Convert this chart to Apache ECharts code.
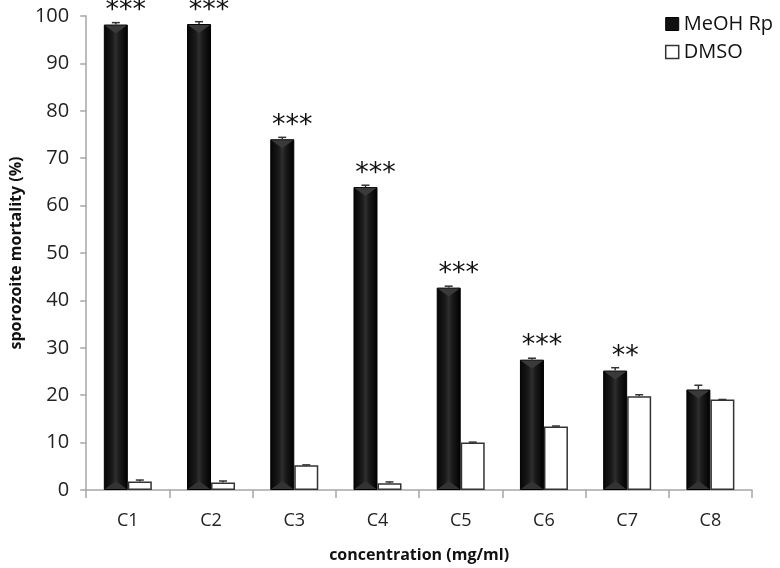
<!DOCTYPE html>
<html><head><meta charset="utf-8">
<script src="https://cdn.jsdelivr.net/npm/echarts@6/dist/echarts.min.js"></script>
<style>html,body{margin:0;padding:0;background:#fff}#c{width:780px;height:568px}</style>
</head><body><div id="c"></div>
<script>
const categories = ['C1','C2','C3','C4','C5','C6','C7','C8'];
const meohValues = [98.2, 98.3, 74.0, 63.9, 42.7, 27.5, 25.2, 21.2];
const meohErrors = [0.4, 0.5, 0.4, 0.4, 0.3, 0.3, 0.6, 0.9];
const dmsoValues = [1.8, 1.6, 5.2, 1.4, 10.0, 13.4, 19.8, 19.1];
const dmsoErrors = [0.3, 0.3, 0.1, 0.3, 0.1, 0.1, 0.3, 0.0];
const significance = ['***','***','***','***','***','***','**',''];
const yTicks = [0,10,20,30,40,50,60,70,80,90,100];

const font = '"Open Sans", "Noto Sans", sans-serif';
const chart = echarts.init(document.getElementById('c'));
const blackFill = new echarts.graphic.LinearGradient(0,0,1,0,[
  {offset:0,color:'#050505'},{offset:0.35,color:'#1a1a1a'},{offset:0.5,color:'#2e2e2e'},{offset:0.65,color:'#1a1a1a'},{offset:1,color:'#000'}]);
const BW = 24;

function errItem(offset){
  return function(params, api){
    const x = api.value(0), v = api.value(1), e = api.value(2);
    const base = api.coord([x, v]);
    const top = api.coord([x, v + e]);
    const cx = base[0] + offset;
    return {type:'group', children:[
      {type:'line', shape:{x1:cx,y1:base[1],x2:cx,y2:top[1]}, style:{stroke:'#333',lineWidth:1.5}},
      {type:'line', shape:{x1:cx-4,y1:top[1],x2:cx+4,y2:top[1]}, style:{stroke:'#333',lineWidth:1.5}}
    ]};
  };
}
// bevel triangles on the black bars
function bevelItem(params, api){
  const x = api.value(0), v = api.value(1);
  const b = api.coord([x, 0]), t = api.coord([x, v]);
  const cx = b[0] - BW/2, l = cx - BW/2 + 1, r = cx + BW/2 - 1;
  const h = 9;
  return {type:'group', children:[
    {type:'polygon', shape:{points:[[l,t[1]+1],[r,t[1]+1],[cx,t[1]+h]]}, style:{fill:'#3a3a3a'}},
    {type:'polygon', shape:{points:[[l,b[1]-1],[r,b[1]-1],[cx,b[1]-h]]}, style:{fill:'#333'}}
  ]};
}

chart.setOption({
  animation:false,
  backgroundColor:'#fff',
  grid:{left:85,right:28,top:16,bottom:78},
  legend:{
    orient:'vertical', right:2, top:9, itemWidth:13, itemHeight:13, itemGap:8,
    textStyle:{fontFamily:font,fontSize:20,color:'#111'},
    data:[
      {name:'MeOH Rp', icon:'rect', itemStyle:{color:'#111',borderColor:'#000',borderWidth:1}},
      {name:'DMSO', icon:'rect', itemStyle:{color:'#fff',borderColor:'#333',borderWidth:1.5}}
    ]
  },
  xAxis:{
    type:'category', data:categories,
    axisLine:{lineStyle:{color:'#a6a6a6',width:1.5}},
    axisTick:{show:true,length:8,alignWithLabel:false,lineStyle:{color:'#a6a6a6',width:1.5}},
    axisLabel:{fontFamily:font,fontSize:18,color:'#222',margin:22},
    name:'concentration (mg/ml)', nameLocation:'middle', nameGap:57,
    nameTextStyle:{fontFamily:font,fontSize:16,fontWeight:'bold',color:'#111'}
  },
  yAxis:{
    type:'value', min:0, max:100, interval:10,
    axisLine:{show:true,lineStyle:{color:'#a6a6a6',width:1.5}},
    axisTick:{show:true,length:6,lineStyle:{color:'#a6a6a6',width:1.5}},
    splitLine:{show:false},
    axisLabel:{fontFamily:font,fontSize:20,color:'#222',margin:17,
      formatter:function(v){return yTicks.indexOf(v)>=0?String(v):'';}},
    name:'sporozoite mortality (%)', nameLocation:'middle', nameGap:58,
    nameTextStyle:{fontFamily:font,fontSize:16,fontWeight:'bold',color:'#111'}
  },
  series:[
    {name:'MeOH Rp', type:'bar', barWidth:BW, barGap:'0%',
     data:meohValues.map((v,i)=>({value:v, label:{formatter:significance[i]}})),
     itemStyle:{color:blackFill,borderColor:'#000',borderWidth:1},
     label:{show:true,position:'top',distance:0,offset:[10,0],fontFamily:'"DejaVu Sans", sans-serif',fontSize:27,color:'#111',lineHeight:27}
    },
    {name:'DMSO', type:'bar', barWidth:BW, barGap:'0%', data:dmsoValues,
     itemStyle:{color:'#fff',borderColor:'#333',borderWidth:1.5}},
    {name:'bevel', type:'custom', renderItem:bevelItem, z:4,
     data:meohValues.map((v,i)=>[i,v]), encode:{x:0,y:1}, silent:true},
    {name:'errM', type:'custom', renderItem:errItem(-BW/2), z:5,
     data:meohValues.map((v,i)=>[i,v,meohErrors[i]]), encode:{x:0,y:1}, silent:true},
    {name:'errD', type:'custom', renderItem:errItem(BW/2), z:5,
     data:dmsoValues.map((v,i)=>[i,v,dmsoErrors[i]]), encode:{x:0,y:1}, silent:true}
  ]
});
</script></body></html>
